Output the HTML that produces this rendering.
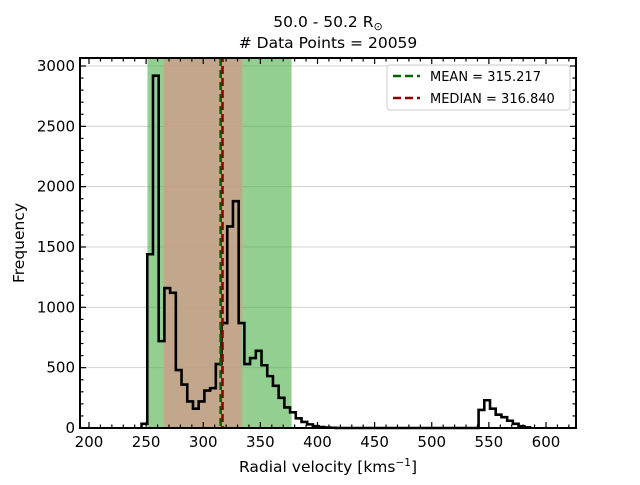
<!DOCTYPE html>
<html><head><meta charset="utf-8"><style>
body{margin:0;background:#fff;}
svg text{font-family:"DejaVu Sans","Liberation Sans",sans-serif;}
</style></head><body>
<svg id="c" width="640" height="480" xmlns="http://www.w3.org/2000/svg"></svg>
<script>
const binStart = 246, binWidth = 5;
const counts = [35,1440,2920,720,1160,1120,480,360,220,160,220,310,330,530,870,1670,1880,870,530,580,640,520,430,350,250,170,130,80,50,30,15,8,4,2,0,0,0,0,0,0,0,0,0,0,0,0,0,0,0,0,0,0,0,0,0,0,0,0,0,150,230,160,110,90,60,35,15,5];
const xTicks = [200,250,300,350,400,450,500,550,600];
const yTicks = [0,500,1000,1500,2000,2500,3000];
const meanVal = 315.217, medianVal = 316.840;
const sigma1 = [265.6, 334.0];
const sigma2 = [251.2, 377.3];

const svg = document.getElementById('c');
const NS = 'http://www.w3.org/2000/svg';
const L=80,R=576,T=58,B=428;
const X = v => 89 + (v-200)*(457/400);
const Y = v => 428 - v*(362/3000);
function mk(tag, attrs, parent){const e=document.createElementNS(NS,tag);for(const k in attrs)e.setAttribute(k,attrs[k]);(parent||svg).appendChild(e);return e;}

yTicks.forEach(t=>{const g=mk('line',{x1:L,x2:R,y1:Y(t),y2:Y(t),stroke:'#d3d3d3','stroke-width':1});

});
const b2=mk('rect',{x:X(sigma2[0]),y:T,width:X(sigma2[1])-X(sigma2[0]),height:B-T,fill:'#4daf4a','fill-opacity':0.6});


const b1=mk('rect',{x:X(sigma1[0]),y:T,width:X(sigma1[1])-X(sigma1[0]),height:B-T,fill:'#d39a8a','fill-opacity':0.75});


let d='M'+X(binStart)+','+Y(0);
counts.forEach((c,i)=>{const x0=X(binStart+i*binWidth),x1=X(binStart+(i+1)*binWidth);d+=' L'+x0+','+Y(c)+' L'+x1+','+Y(c);});
d+=' L'+X(binStart+counts.length*binWidth)+','+Y(0);
const h=mk('path',{d:d,fill:'none',stroke:'#000','stroke-width':2.6,'stroke-linejoin':'miter'});


const ml=mk('line',{x1:X(meanVal),x2:X(meanVal),y1:T,y2:B,stroke:'#006400','stroke-width':2.6,'stroke-dasharray':'8,4'});


const mdl=mk('line',{x1:X(medianVal),x2:X(medianVal),y1:T,y2:B,stroke:'#8b0000','stroke-width':2.6,'stroke-dasharray':'8,4','stroke-dashoffset':4});


const fr=mk('rect',{x:L,y:T,width:R-L,height:B-T,fill:'none',stroke:'#000','stroke-width':2});


for(let v=200;v<=620;v+=10){const maj=v%50===0;const len=maj?6:3.5;
mk('line',{x1:X(v),x2:X(v),y1:B,y2:B-len,stroke:'#000','stroke-width':1.2});
mk('line',{x1:X(v),x2:X(v),y1:T,y2:T+len,stroke:'#000','stroke-width':1.2});}
xTicks.forEach(t=>{const e=mk('text',{x:X(t),y:B+19,'text-anchor':'middle','font-size':15});e.textContent=t;

});
for(let v=0;v<=3000;v+=100){const maj=v%500===0;const len=maj?6:3.5;
mk('line',{x1:L,x2:L+len,y1:Y(v),y2:Y(v),stroke:'#000','stroke-width':1.2});
mk('line',{x1:R,x2:R-len,y1:Y(v),y2:Y(v),stroke:'#000','stroke-width':1.2});}
yTicks.forEach(t=>{const e=mk('text',{x:L-5,y:Y(t)+5,'text-anchor':'end','font-size':15});e.textContent=t;

});
</script>
<svg width="640" height="480" style="position:absolute;left:0;top:0" xmlns="http://www.w3.org/2000/svg">
<text x="328" y="27" text-anchor="middle" font-size="15.5">50.0 - 50.2 R<tspan font-size="11" dy="3">⊙</tspan></text>
<text x="328" y="48" text-anchor="middle" font-size="15.5"># Data Points = 20059</text>
<text x="328" y="472" text-anchor="middle" font-size="15.5">Radial velocity [kms<tspan font-size="10.5" dy="-6">−1</tspan><tspan dy="6">]</tspan></text>
<text transform="translate(24,243) rotate(-90)" text-anchor="middle" font-size="15.5">Frequency</text>
<g>
<rect x="387" y="65" width="183" height="45" rx="3" fill="#fff" fill-opacity="0.85" stroke="#ccc"/>
<line x1="393" x2="420" y1="76" y2="76" stroke="#006400" stroke-width="2.6" stroke-dasharray="8,4"/>
<text x="430" y="81" font-size="13">MEAN = 315.217</text>
<line x1="393" x2="420" y1="98" y2="98" stroke="#8b0000" stroke-width="2.6" stroke-dasharray="8,4"/>
<text x="430" y="103" font-size="13">MEDIAN = 316.840</text>
</g>
</svg>
</body></html>
